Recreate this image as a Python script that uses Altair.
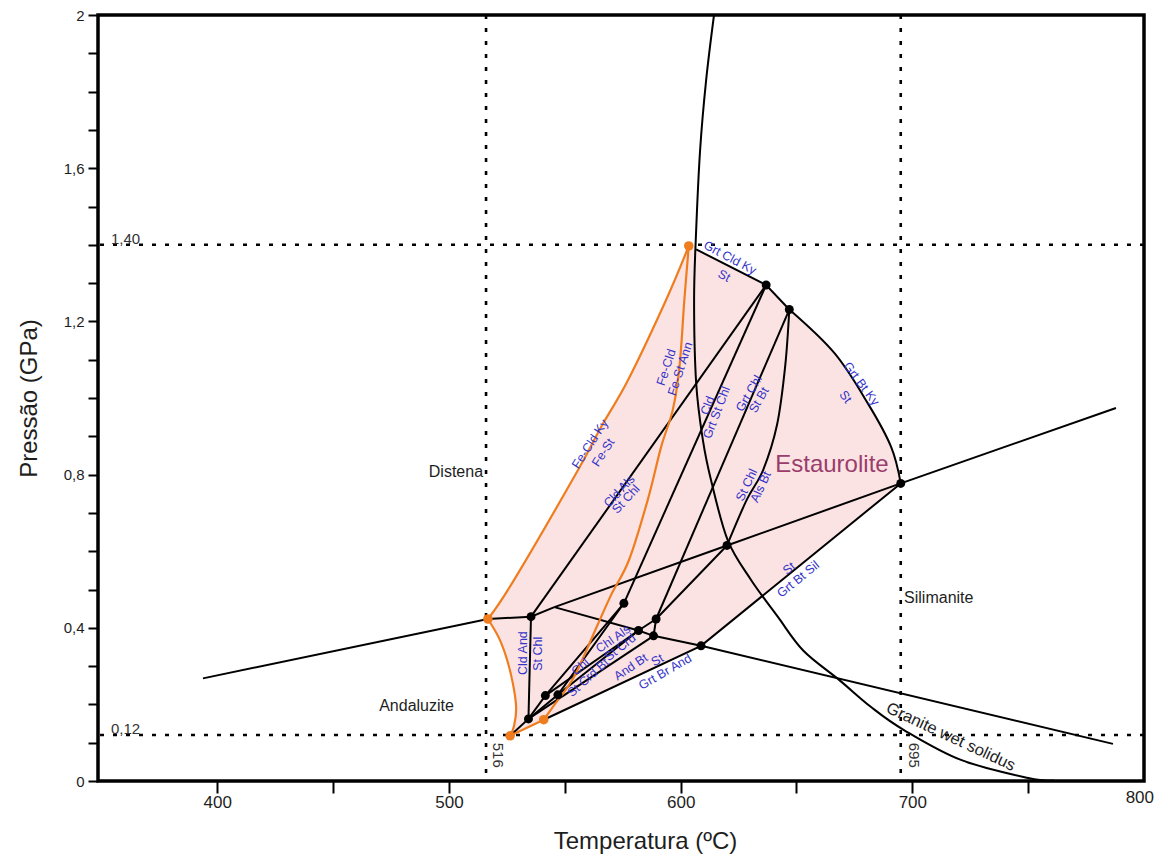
import altair as alt
import pandas as pd

FONT = "Liberation Sans"
BLUE = "#3434c8"
ORANGE = "#ef7d1f"
PINK = "#fce3e3"
MAROON = "#9a3d6c"
INK = "#1e1e1e"

# ---------------- axes ----------------
T_DOMAIN = [348.5, 800]
P_DOMAIN = [0, 2]
x_tick_values = [400, 450, 500, 550, 600, 650, 700, 750]
y_tick_values = [0, 0.1, 0.2, 0.3, 0.4, 0.5, 0.6, 0.7, 0.8, 0.9, 1.0,
                 1.1, 1.2, 1.3, 1.4, 1.5, 1.6, 1.7, 1.8, 1.9, 2.0]

# dotted reference lines
ref_P = [1.40, 0.12]
ref_T = [516, 695]

# ---------------- invariant points (T degC, P GPa) ----------------
orange_T = [603.5, 516.8, 526.4, 540.9]
orange_P = [1.397, 0.423, 0.118, 0.160]
black_T = [636.9, 646.9, 695.0, 620.0, 535.4, 575.5, 589.4, 581.8, 588.3, 608.8, 541.6, 547.0, 534.3]
black_P = [1.295, 1.231, 0.777, 0.615, 0.429, 0.464, 0.423, 0.393, 0.379, 0.353, 0.223, 0.225, 0.162]

# ---------------- straight reaction lines ----------------
ky_and = [(393.8, 0.268), (516.8, 0.423), (535.4, 0.429), (545.5, 0.454)]
ky_sil = [(545.5, 0.454), (620.0, 0.615), (695.0, 0.777), (787.9, 0.974)]
and_sil = [(545.5, 0.454), (581.8, 0.393), (588.3, 0.379), (608.8, 0.353), (786.6, 0.097)]
grt_cld_ky = [(606.7, 1.388), (636.9, 1.295), (646.9, 1.231)]
st_grt_bt = [(695.0, 0.777), (608.8, 0.353), (540.9, 0.160)]
cld_als = [(535.4, 0.429), (636.9, 1.295)]
cld_and = [(535.4, 0.429), (534.3, 0.162)]
cld_grt = [(575.5, 0.464), (636.9, 1.295)]
grt_chl = [(589.4, 0.423), (646.9, 1.231)]
st_chl_low = [(620.0, 0.615), (589.4, 0.423), (588.3, 0.379)]
b8_b7 = [(581.8, 0.393), (589.4, 0.423)]
chl_a = [(526.4, 0.118), (534.3, 0.162), (541.6, 0.223), (575.5, 0.464)]
chl_b = [(534.3, 0.162), (547.0, 0.225), (575.5, 0.464)]
chl_crd = [(541.6, 0.223), (581.8, 0.393)]
chl_als_crd = [(547.0, 0.225), (581.8, 0.393)]
and_bt = [(534.3, 0.162), (588.3, 0.379)]

# ---------------- curved lines ----------------
solidus = [(614.4, 2.0), (611.0, 1.830), (608.4, 1.648), (606.7, 1.439), (605.8, 1.256),
           (606.7, 1.039), (609.6, 0.890), (613.1, 0.786), (620.3, 0.629), (630.4, 0.525),
           (641.9, 0.429), (653.0, 0.340), (668.4, 0.264), (682.2, 0.193), (696.4, 0.133),
           (721.0, 0.055), (750.0, 0.008), (761.2, 0.001)]
grt_bt_ky = [(646.9, 1.231), (666.4, 1.117), (680.8, 0.986), (690.8, 0.873), (695.0, 0.777)]
st_chl_als = [(646.9, 1.231), (645.1, 1.082), (641.6, 0.930), (635.6, 0.812), (628.5, 0.734), (620.0, 0.615)]

fe_cld_ky = [(516.8, 0.423), (528.1, 0.525), (555.7, 0.812), (565.7, 0.925), (577.3, 1.047),
             (593.7, 1.256), (603.5, 1.397)]
fe_st_ann = [(603.5, 1.397), (601.6, 1.256), (599.5, 1.082), (596.6, 0.969), (591.6, 0.873),
             (585.8, 0.734), (577.7, 0.577), (570.0, 0.486), (563.5, 0.399), (554.0, 0.272),
             (545.4, 0.198), (540.9, 0.160)]
fe_low = [(540.9, 0.160), (526.4, 0.118)]
fe_left = [(516.8, 0.423), (521.6, 0.373), (525.1, 0.316), (527.7, 0.251), (529.0, 0.191),
           (528.1, 0.144), (526.4, 0.118)]

# ---------------- labels ----------------
blue_text = ["Grt Cld Ky", "St", "Grt Bt Ky", "St", "Fe-Cld Ky", "Fe-St", "Cld Als", "St Chl",
             "Fe-Cld", "Fe-St Ann", "Cld", "Grt St Chl", "Grt Chl", "St Bt", "St Chl", "Als Bt",
             "St", "Grt Bt Sil", "St", "Grt Br And", "And Bt", "Chl", "St Crd Bt", "Chl Als",
             "St Crd", "Cld And", "St Chl"]
blue_T = [621.3, 618.8, 678.0, 671.2, 560.9, 566.6, 573.5, 576.4, 593.8, 599.8, 611.6, 615.5,
          629.5, 633.8, 628.5, 634.6, 646.8, 650.7, 590.0, 593.3, 578.5, 556.7, 560.1, 570.9,
          573.9, 532.1, 538.3]
blue_P = [1.366, 1.319, 1.037, 1.003, 0.880, 0.858, 0.757, 0.736, 1.080, 1.076, 0.980, 0.962,
          1.012, 0.995, 0.773, 0.768, 0.555, 0.527, 0.316, 0.285, 0.298, 0.298, 0.270, 0.371,
          0.349, 0.334, 0.332]
blue_angle = [28, 28, 53, 53, 303, 303, 313, 313, 288, 288, 291, 291, 300, 300, 295, 295,
              321, 321, 330, 330, 326, 318, 318, 325, 322, 270, 270]

region_text = ["Distena", "Andaluzite", "Silimanite"]
region_T = [503.0, 486.0, 711.4]
region_P = [0.807, 0.197, 0.477]

ref_label_text = ["1,40", "0,12"]
ref_label_T = [354.1, 354.1]
ref_label_P = [1.40, 0.12]

rot_label_text = ["516", "695"]
rot_label_T = [521.3, 700.7]
rot_label_P = [0.10, 0.10]


def lines_df(lines):
    rows = []
    for name, pts in lines.items():
        for i, (t, p) in enumerate(pts):
            rows.append({"seg": name, "i": i, "T": t, "P": p})
    return pd.DataFrame(rows)


x_enc = alt.X("T:Q", scale=alt.Scale(domain=T_DOMAIN, nice=False, zero=False),
              axis=alt.Axis(values=x_tick_values,
                            labelExpr="datum.value % 100 == 0 ? format(datum.value, 'd') : ''",
                            tickSize=12, tickWidth=2, tickColor="black", labelFontSize=17,
                            labelPadding=1, labelOverlap=False, domain=False, grid=False,
                            labelFont=FONT, titleFont=FONT, labelColor=INK, titleColor=INK,
                            titleFontSize=24, titleFontWeight="normal", titlePadding=19,
                            titleX=547, titleAlign="center"),
              title="Temperatura (ºC)")
y_enc = alt.Y("P:Q", scale=alt.Scale(domain=P_DOMAIN, nice=False, zero=False),
              axis=alt.Axis(values=y_tick_values,
                            labelExpr="round(datum.value*10) % 4 == 0 ? replace(format(datum.value, '.1~f'), '.', ',') : ''",
                            tickSize=10, tickWidth=2, tickColor="black", labelFontSize=15,
                            labelPadding=4, labelOverlap=False, labelFlush=False, domain=False,
                            grid=False, labelFont=FONT, titleFont=FONT, labelColor=INK,
                            titleColor=INK, titleFontSize=24, titleFontWeight="normal",
                            titlePadding=22),
              title="Pressão (GPa)")

# pink stability field of staurolite, built from the boundary arrays
pink_pts = ([fe_st_ann[0]] + grt_cld_ky + grt_bt_ky[1:] + st_grt_bt[1:] + fe_low[1:]
            + list(reversed(fe_left))[1:] + fe_cld_ky[1:-1])
pink_df = pd.DataFrame({"i": range(len(pink_pts)),
                        "T": [p[0] for p in pink_pts], "P": [p[1] for p in pink_pts]})

pink = alt.Chart(pink_df).mark_line(interpolate="linear-closed", fill=PINK, fillOpacity=1,
                                    strokeOpacity=0).encode(x=x_enc, y=y_enc, order="i:Q")

dash = dict(color="black", strokeWidth=2.6, strokeDash=[4, 9])
rules_h = alt.Chart(pd.DataFrame({"P": ref_P})).mark_rule(**dash).encode(y=y_enc)
rules_v = alt.Chart(pd.DataFrame({"T": ref_T})).mark_rule(**dash).encode(x=x_enc)

straight_df = lines_df({"ky_and": ky_and, "ky_sil": ky_sil, "and_sil": and_sil,
                        "grt_cld_ky": grt_cld_ky, "st_grt_bt": st_grt_bt, "cld_als": cld_als,
                        "cld_and": cld_and, "cld_grt": cld_grt, "grt_chl": grt_chl,
                        "st_chl_low": st_chl_low, "b8_b7": b8_b7, "chl_a": chl_a,
                        "chl_b": chl_b, "chl_crd": chl_crd, "chl_als_crd": chl_als_crd,
                        "and_bt": and_bt})
curve_df = lines_df({"solidus": solidus, "grt_bt_ky": grt_bt_ky, "st_chl_als": st_chl_als})
orange_df = lines_df({"fe_cld_ky": fe_cld_ky, "fe_st_ann": fe_st_ann, "fe_low": fe_low,
                      "fe_left": fe_left})

black_straight = alt.Chart(straight_df).mark_line(color="black", strokeWidth=2).encode(
    x=x_enc, y=y_enc, detail="seg:N", order="i:Q")
black_curves = alt.Chart(curve_df).mark_line(color="black", strokeWidth=2,
                                             interpolate="cardinal").encode(
    x=x_enc, y=y_enc, detail="seg:N", order="i:Q")
orange_curves = alt.Chart(orange_df).mark_line(color=ORANGE, strokeWidth=2.2,
                                               interpolate="cardinal").encode(
    x=x_enc, y=y_enc, detail="seg:N", order="i:Q")

black_points = alt.Chart(pd.DataFrame({"T": black_T, "P": black_P})).mark_circle(
    color="black", size=80, opacity=1).encode(x=x_enc, y=y_enc)
orange_points = alt.Chart(pd.DataFrame({"T": orange_T, "P": orange_P})).mark_circle(
    color=ORANGE, size=92, opacity=1).encode(x=x_enc, y=y_enc)

blue_labels = alt.Chart(pd.DataFrame({"text": blue_text, "T": blue_T, "P": blue_P,
                                      "angle": blue_angle})).mark_text(
    font=FONT, fontSize=12.5, color=BLUE, align="center", baseline="middle").encode(
    x=x_enc, y=y_enc, text="text:N", angle=alt.Angle("angle:Q", scale=None))

region_labels = alt.Chart(pd.DataFrame({"text": region_text, "T": region_T, "P": region_P})).mark_text(
    font=FONT, fontSize=16, color=INK, align="center", baseline="middle").encode(
    x=x_enc, y=y_enc, text="text:N")

ref_labels = alt.Chart(pd.DataFrame({"text": ref_label_text, "T": ref_label_T,
                                     "P": ref_label_P})).mark_text(
    font=FONT, fontSize=15, color="#333333", align="left", baseline="alphabetic", dy=-1).encode(
    x=x_enc, y=y_enc, text="text:N")

rot_labels = alt.Chart(pd.DataFrame({"text": rot_label_text, "T": rot_label_T,
                                     "P": rot_label_P})).mark_text(
    font=FONT, fontSize=15, color="#333333", align="left", baseline="middle", angle=90).encode(
    x=x_enc, y=y_enc, text="text:N")

stauro = alt.Chart(pd.DataFrame({"text": ["Estaurolite"], "T": [665.3], "P": [0.825]})).mark_text(
    font=FONT, fontSize=24, color=MAROON, align="center", baseline="middle").encode(
    x=x_enc, y=y_enc, text="text:N")

granite = alt.Chart(pd.DataFrame({"text": ["Granite wet solidus"], "T": [716.6], "P": [0.115]})).mark_text(
    font=FONT, fontSize=16.5, color=INK, align="center", baseline="middle", angle=25).encode(
    x=x_enc, y=y_enc, text="text:N")

label800 = alt.Chart(pd.DataFrame({"text": ["800"], "T": [798.2]})).mark_text(
    font=FONT, fontSize=17, color=INK, align="center", baseline="middle").encode(
    x=x_enc, y=alt.value(783), text="text:N")

chart = alt.layer(
    pink, rules_h, rules_v, black_straight, black_curves, orange_curves,
    black_points, orange_points, blue_labels, region_labels, ref_labels, rot_labels,
    stauro, granite, label800
).properties(
    width=1046, height=766,
    padding={"left": 90, "top": 7, "right": 11, "bottom": 75},
    autosize=alt.AutoSizeParams(type="none"),
    background="white",
).configure_view(stroke="black", strokeWidth=3.5)

chart.save("out.html", embed_options={"renderer": "svg", "actions": False})
